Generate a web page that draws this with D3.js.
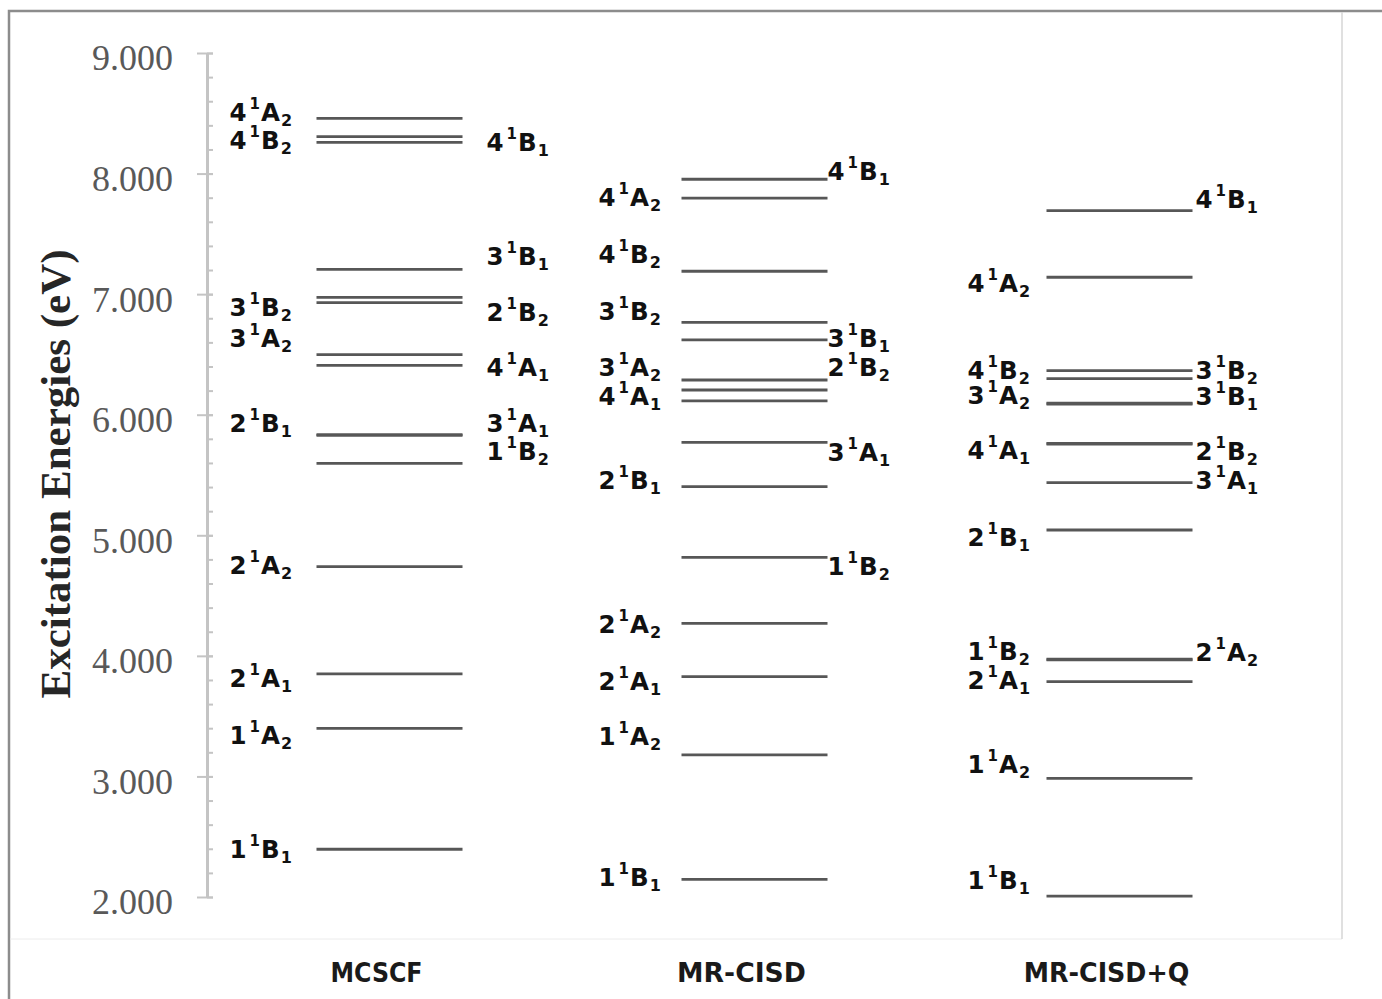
<!DOCTYPE html>
<html>
<head>
<meta charset="utf-8">
<script src="https://cdn.jsdelivr.net/npm/d3@7"></script>
<style>
  html, body { margin: 0; padding: 0; background: #fff; }
  svg { display: block; }
</style>
</head>
<body>
<svg id="chart"></svg>
<script>
// states, in the same order as every energy / label array below
const states = ["1B1", "1A2", "2A1", "2A2", "1B2", "2B1", "3A1", "4A1", "3A2", "2B2", "3B2", "3B1", "4B2", "4A2", "4B1"];
const methods = ["MCSCF", "MR-CISD", "MR-CISD+Q"];

// excitation energies (eV)
const mcscf    = [2.396, 3.399, 3.850, 4.740, 5.597, 5.829, 5.835, 6.410, 6.498, 6.929, 6.974, 7.206, 8.259, 8.458, 8.306];
const mrcisd   = [2.147, 3.178, 3.827, 4.270, 4.817, 5.403, 5.771, 6.114, 6.288, 6.205, 6.766, 6.620, 7.190, 7.796, 7.953];
const mrcisdQ  = [2.008, 2.984, 3.786, 3.972, 3.966, 5.044, 5.436, 5.757, 6.089, 5.763, 6.299, 6.095, 6.365, 7.140, 7.692];

// which side of the level the state label sits on
const mcscfSide   = ["L","L","L","L","R","L","R","R","L","R","L","R","L","L","R"];
const mrcisdSide  = ["L","L","L","L","R","L","R","L","L","R","L","R","L","L","R"];
const mrcisdQSide = ["L","L","L","R","L","L","R","L","L","R","R","R","L","L","R"];

// energy the label text is drawn at (labels were nudged apart in the original)
const mcscfLabelAt   = [2.398, 3.344, 3.816, 4.754, 5.699, 5.931, 5.931, 6.396, 6.636, 6.852, 6.893, 7.317, 8.279, 8.511, 8.262];
const mrcisdLabelAt  = [2.166, 3.335, 3.791, 4.264, 4.745, 5.459, 5.691, 6.155, 6.396, 6.396, 6.860, 6.636, 7.333, 7.806, 8.022];
const mrcisdQLabelAt = [2.141, 3.103, 3.800, 4.032, 4.040, 4.986, 5.459, 5.707, 6.163, 5.699, 6.370, 6.155, 6.370, 7.092, 7.789];

const yTicks = [2, 3, 4, 5, 6, 7, 8, 9];
const yTitle = "Excitation Energies (eV)";

const columns = [
  { name: methods[0], e: mcscf,   side: mcscfSide,   at: mcscfLabelAt },
  { name: methods[1], e: mrcisd,  side: mrcisdSide,  at: mrcisdLabelAt },
  { name: methods[2], e: mrcisdQ, side: mrcisdQSide, at: mrcisdQLabelAt },
];

const W = 1382, H = 999;
const svg = d3.select("#chart").attr("width", W).attr("height", H);

// chart frame (cut off at right / bottom like the screenshot)
svg.append("path")
  .attr("d", `M9,${H} V11 H${W}`)
  .attr("fill", "none").attr("stroke", "#8c8c8c").attr("stroke-width", 2.5);
// plot-area edges
svg.append("line").attr("x1", 10).attr("x2", 1342).attr("y1", 939).attr("y2", 939)
  .attr("stroke", "#ececec").attr("stroke-width", 1);
svg.append("line").attr("x1", 1342).attr("x2", 1342).attr("y1", 12).attr("y2", 939)
  .attr("stroke", "#d6d6d6").attr("stroke-width", 1.5);

const axisX = 207;
const y = d3.scaleLinear().domain([2, 9]).range([897, 53]);
const x = d3.scaleBand().domain(methods).range([axisX, 1302]);
const halfLen = 73;

// minor ticks (every 0.2 eV, inside)
const minor = svg.append("g").attr("transform", `translate(${axisX},0)`)
  .call(d3.axisLeft(y).tickValues(d3.range(2, 9.001, 0.2)).tickSize(-6).tickFormat(""));
minor.select(".domain").remove();
minor.selectAll("line").attr("stroke", "#c4c4c4").attr("stroke-width", 2);

// major axis
const yAxis = svg.append("g").attr("transform", `translate(${axisX},0)`)
  .call(d3.axisLeft(y).tickValues(yTicks).tickSize(10).tickSizeOuter(0).tickFormat(d3.format(".3f")));
yAxis.select(".domain").attr("stroke", "#c4c4c4").attr("stroke-width", 3);
yAxis.selectAll(".tick line").attr("stroke", "#c4c4c4").attr("stroke-width", 2).attr("x2", -10).attr("x1", 6);
yAxis.selectAll(".tick text")
  .attr("x", -34).attr("dy", "0.47em")
  .attr("font-family", "'Liberation Serif', 'Times New Roman', serif")
  .attr("font-size", 36).attr("fill", "#595959");

// y title
svg.append("text")
  .attr("transform", `translate(70,474) rotate(-90)`)
  .attr("text-anchor", "middle")
  .attr("font-family", "'Liberation Serif', 'Times New Roman', serif")
  .attr("font-weight", "bold").attr("font-size", 43).attr("fill", "#262626")
  .text(yTitle);

// category labels
svg.append("g").selectAll("text").data(methods).join("text")
  .attr("x", d => x(d) + x.bandwidth() / 2 - 13)
  .attr("y", 982)
  .attr("text-anchor", "middle")
  .attr("font-family", "'DejaVu Sans', Verdana, sans-serif")
  .attr("font-weight", "bold").attr("font-size", 26).attr("fill", "#1a1a1a")
  .attr("textLength", d => d.length * 18.4).attr("lengthAdjust", "spacingAndGlyphs")
  .text(d => d);

// per column label offsets from the level centre (left edge of text)
const leftOff = [-160, -156, -152];
const rightOff = [97, 73, 76];

const plot = svg.append("g");
columns.forEach((col, ci) => {
  const cx = x(col.name) + x.bandwidth() / 2;
  const g = plot.append("g").attr("class", "col");
  const rows = states.map((s, i) => ({ s, e: col.e[i], side: col.side[i], at: col.at[i] }));

  g.selectAll("line.level").data(rows).join("line")
    .attr("class", "level")
    .attr("x1", cx - halfLen).attr("x2", cx + halfLen)
    .attr("y1", d => y(d.e)).attr("y2", d => y(d.e))
    .attr("stroke", "#575757").attr("stroke-width", 2.8);

  const lab = g.selectAll("text.state").data(rows).join("text")
    .attr("class", "state")
    .attr("x", d => cx + (d.side === "L" ? leftOff[ci] : rightOff[ci]))
    .attr("y", d => y(d.at) + 9)
    .attr("font-family", "'DejaVu Sans', Verdana, sans-serif")
    .attr("font-weight", "bold").attr("font-size", 24.5).attr("fill", "#111");
  lab.append("tspan").text(d => d.s[0]);
  lab.append("tspan").attr("font-size", 15).attr("dx", 3).attr("dy", -12).text("1");
  lab.append("tspan").attr("dx", 1).attr("dy", 12).text(d => d.s[1]);
  lab.append("tspan").attr("font-size", 16).attr("dx", 1).attr("dy", 5).text(d => d.s[2]);
});
</script>
</body>
</html>
